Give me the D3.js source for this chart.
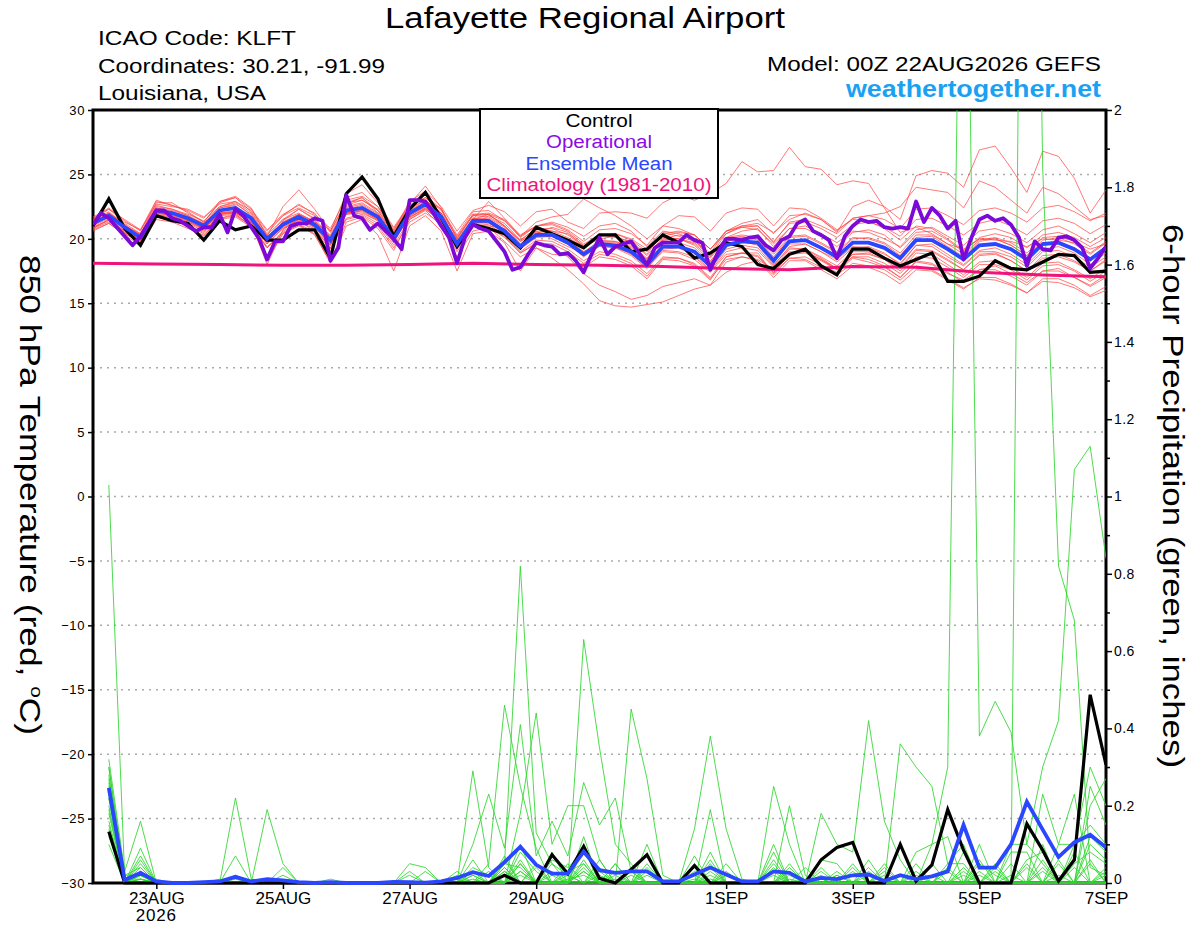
<!DOCTYPE html>
<html>
<head>
<meta charset="utf-8">
<script src="https://cdn.jsdelivr.net/npm/d3@7"></script>
<style>
  body { margin: 0; background: #fff; }
  svg { display: block; font-family: "Liberation Sans", Arial, Helvetica, sans-serif; }
</style>
</head>
<body>
<svg id="chart" width="1200" height="927"></svg>
<script>
// GEFS run 00Z 22AUG2026, 6-hourly steps (index i -> forecast hour i*6)
const controlTemp = [
  21.0, 23.1, 20.8, 19.5, 21.8, 21.4, 21.2, 19.9, 21.4, 20.7, 21.0, 19.9, 19.9, 20.7, 20.7, 18.5,
  23.5, 24.8, 23.1, 20.2, 22.3, 23.6, 21.6, 19.4, 21.1, 20.8, 20.4, 19.3, 20.9, 20.4, 19.9, 19.3,
  20.3, 20.3, 19.0, 19.2, 20.3, 19.7, 18.5, 18.9, 19.7, 19.4, 18.0, 17.7, 18.8, 19.2, 17.9, 17.2,
  19.2, 19.2, 18.5, 17.9, 18.4, 18.9, 16.7, 16.7, 17.1, 18.3, 17.7, 17.6, 18.2, 18.8, 18.7, 17.4,
  17.5
];
const meanTemp = [
  21.2, 21.8, 20.9, 20.1, 22.2, 22.0, 21.6, 21.0, 22.2, 22.4, 21.6, 20.0, 21.1, 21.7, 21.1, 19.9,
  22.2, 22.4, 21.7, 20.0, 22.0, 22.7, 21.7, 19.6, 21.4, 21.4, 20.6, 19.4, 20.3, 20.3, 19.7, 18.8,
  19.6, 19.5, 19.0, 18.0, 19.4, 19.4, 19.0, 17.9, 19.5, 19.8, 19.7, 18.3, 19.8, 19.9, 19.3, 18.6,
  19.7, 19.7, 19.3, 18.5, 19.9, 19.9, 19.2, 18.4, 19.5, 19.6, 19.2, 18.4, 19.6, 19.7, 19.2, 18.4,
  19.3
];
// operational GFS is 3-hourly (index i -> forecast hour i*3)
const operTemp = [
  21.1, 22.0, 21.6, 20.9, 20.2, 19.5, 20.2, 21.2,
  22.2, 22.2, 21.6, 21.4, 21.0, 20.6, 20.9, 20.9,
  21.9, 20.5, 22.3, 21.8, 20.9, 20.0, 18.4, 19.8,
  19.8, 21.0, 21.2, 21.2, 21.6, 21.4, 18.3, 19.3,
  23.4, 21.8, 21.6, 20.7, 21.2, 20.6, 20.0, 19.2,
  23.0, 23.0, 22.9, 22.0, 21.0, 20.1, 18.1, 20.1,
  21.1, 20.8, 20.6, 19.8, 19.0, 17.6, 17.8, 18.8,
  19.7, 19.5, 19.4, 18.8, 18.9, 18.3, 17.4, 18.8,
  20.1, 18.8, 19.4, 19.6, 19.8, 18.9, 18.0, 19.3,
  19.7, 19.7, 19.7, 20.3, 19.9, 19.7, 17.6, 19.0,
  20.0, 20.0, 19.9, 20.1, 20.2, 19.5, 19.1, 19.9,
  20.2, 21.2, 21.5, 20.6, 20.3, 19.9, 18.5, 20.2,
  21.0, 21.5, 21.3, 21.4, 20.9, 20.8, 20.9, 20.8,
  22.9, 21.3, 22.4, 21.8, 20.8, 21.4, 18.4, 20.1,
  21.5, 21.8, 21.4, 21.6, 21.1, 20.1, 17.9, 19.8,
  19.2, 19.1, 20.1, 20.2, 19.9, 19.3, 17.7, 18.5,
  19.4
];
// climatology, daily (index i -> forecast hour i*24)
const climTemp = [18.1, 18.05, 18.0, 17.95, 17.95, 18.0, 18.1, 18.0, 17.95, 17.85, 17.7, 17.6, 17.85, 17.8, 17.4, 17.2, 17.05];

const memberTemp = [
  [21.5,22.3,21.3,20.7,23.0,22.6,22.1,21.3,22.8,23.2,22.1,20.4,21.8,22.7,21.9,20.8,23.2,23.6,22.5,20.6,22.9,23.7,22.5,20.6,22.2,22.6,22.1,21.0,22.1,22.3,21.3,20.8,22.0,22.1,22.0,21.6,22.8,23.4,23.0,23.5,24.3,26.0,25.2,25.3,27.1,25.6,25.4,24.2,24.5,24.3,22.4,20.5,20.9,20.4,19.6,19.2,20.0,19.9,19.8,19.4,20.0,19.9,19.7,19.2,19.6],
  [20.8,21.5,20.6,19.8,21.9,21.6,21.0,20.5,21.9,22.0,21.2,19.6,21.4,22.3,21.5,19.6,22.6,23.0,22.2,20.3,21.6,22.4,21.3,19.0,21.0,21.8,21.2,19.9,20.8,20.6,20.4,19.5,20.2,20.4,19.9,19.0,20.2,20.5,20.3,19.2,20.4,21.0,21.2,20.5,21.5,22.0,21.5,20.5,22.5,23.0,22.5,21.5,24.9,25.3,25.1,24.0,26.9,27.2,25.5,23.6,26.8,26.4,24.7,22.0,23.8],
  [21.0,22.0,21.2,20.4,22.6,22.3,21.9,21.4,22.5,22.9,22.0,20.3,21.5,22.0,21.3,20.3,22.7,23.2,22.0,20.5,22.4,23.0,22.0,20.2,21.9,22.0,21.5,20.3,21.0,21.1,20.6,19.6,20.3,20.1,19.8,18.8,20.5,20.2,19.8,18.9,20.6,21.2,21.5,20.4,21.8,21.9,21.5,20.6,21.6,21.8,22.0,22.5,24.0,23.8,23.6,22.4,24.5,24.0,23.0,22.0,24.0,23.5,22.5,21.5,21.8],
  [20.9,21.4,20.4,19.8,21.8,21.5,21.2,20.6,21.8,21.9,21.0,19.3,20.6,21.3,20.8,19.3,21.6,21.9,21.2,19.5,21.5,22.2,21.0,18.6,20.6,20.9,19.8,18.6,19.3,18.5,17.6,16.5,15.2,14.8,14.7,14.9,15.1,15.6,16.1,16.4,17.4,18.0,18.3,17.2,18.5,18.6,18.0,17.4,18.5,18.2,17.8,17.0,18.2,18.0,17.3,16.8,17.6,17.9,17.3,16.6,17.5,17.7,17.0,16.4,17.2],
  [21.4,21.6,20.5,19.9,22.0,21.8,21.3,20.7,21.9,22.0,21.3,19.6,20.8,21.4,20.6,19.5,21.9,22.0,21.4,19.7,21.8,22.5,21.4,19.2,21.0,20.8,20.2,18.9,19.6,19.3,18.6,17.3,16.4,15.9,15.3,15.6,16.3,16.6,16.9,16.4,18.2,18.6,18.4,17.6,19.0,19.0,18.4,17.7,18.8,18.8,18.4,17.5,18.9,18.8,18.0,17.2,18.2,18.3,17.8,17.0,18.1,18.2,17.6,16.9,17.7],
  [21.6,22.4,21.4,20.6,22.9,22.6,22.2,21.6,22.9,23.2,22.3,20.7,21.9,22.6,22.0,20.5,23.0,23.3,22.5,20.8,22.6,23.2,22.2,20.1,21.8,21.7,21.0,19.8,20.5,20.4,19.9,19.0,19.6,19.4,18.8,17.8,19.0,18.9,18.4,17.4,18.8,18.9,18.6,17.4,18.5,18.4,17.8,17.2,18.1,17.9,17.6,16.8,17.9,17.6,16.9,16.2,16.9,16.8,16.4,15.8,16.7,16.6,16.2,15.5,16.0],
  [20.7,21.2,20.3,19.5,21.5,21.3,20.8,20.3,21.5,21.7,20.9,19.3,20.5,21.1,20.6,19.2,21.5,21.8,21.0,19.3,21.3,22.0,21.2,19.4,21.5,22.9,21.6,20.2,21.3,21.7,21.9,23.1,22.4,21.8,21.0,20.0,21.0,20.8,20.3,19.2,20.6,20.9,20.7,19.6,20.8,21.0,20.4,19.7,20.6,20.5,20.0,19.4,20.7,20.9,20.2,19.5,20.6,20.8,20.4,19.7,20.7,21.0,20.4,19.7,20.5],
  [21.1,21.7,20.8,19.9,22.0,21.9,21.5,20.9,22.1,22.5,21.5,19.8,21.0,21.8,21.2,19.8,22.3,22.6,21.8,19.8,21.9,22.8,21.8,19.4,21.3,21.3,20.4,19.2,20.1,20.2,19.6,18.6,19.5,19.3,18.9,17.8,19.2,19.3,18.7,17.6,19.2,19.5,19.3,17.9,19.4,19.6,19.0,18.2,19.3,19.4,18.9,18.0,19.5,19.6,18.8,18.0,19.1,19.3,18.8,18.0,19.2,19.4,18.9,18.0,18.9],
  [21.3,22.0,21.0,20.4,22.8,22.8,22.0,21.3,22.9,23.3,22.4,20.2,22.5,23.8,22.3,20.6,23.5,24.2,22.8,20.9,22.7,24.1,22.4,20.0,21.8,21.9,21.0,19.6,20.4,20.9,20.5,19.4,20.0,20.2,19.5,18.5,20.0,20.3,20.0,18.7,20.1,20.6,20.8,19.4,20.8,20.8,20.2,19.4,20.5,20.7,20.3,19.3,20.5,20.6,19.9,19.0,20.1,20.4,20.1,19.3,20.3,20.5,20.1,19.4,20.1],
  [20.6,21.2,20.4,19.7,21.7,21.4,21.0,20.2,21.6,21.8,21.0,18.3,20.4,21.0,20.4,18.1,21.0,21.5,20.3,17.5,21.0,21.8,20.6,17.5,20.4,20.6,19.7,17.5,19.3,18.8,18.7,17.8,18.6,18.4,17.9,16.9,18.4,18.3,17.9,16.8,18.6,18.9,18.9,17.3,18.9,19.0,18.4,17.6,18.8,18.9,18.4,17.7,19.1,19.0,18.3,17.6,18.8,18.9,18.3,17.5,18.5,18.6,18.2,17.5,18.4],
  [21.2,21.9,21.0,20.3,22.4,22.2,21.8,21.2,22.2,22.3,21.7,20.1,21.3,21.9,21.4,20.2,22.4,22.7,21.9,20.3,22.1,22.9,21.9,19.9,21.6,21.6,20.9,19.8,20.6,20.6,20.1,19.4,20.2,20.4,20.0,19.2,20.4,20.6,20.3,19.2,20.6,21.0,21.0,19.8,21.2,21.3,20.8,20.1,21.1,21.3,20.9,20.2,21.5,21.6,21.0,20.3,21.2,21.5,21.0,20.3,21.4,21.6,21.2,20.4,21.1],
  [21.0,21.6,20.7,20.0,22.0,21.8,21.4,20.8,22.0,22.2,21.4,19.8,20.9,21.5,20.9,19.6,22.0,22.3,21.5,19.9,21.8,22.5,21.5,19.3,21.2,21.1,20.3,19.0,19.9,19.8,19.2,18.3,19.0,18.8,18.3,17.3,18.6,18.5,18.0,16.9,18.4,18.6,18.3,17.0,18.3,18.3,17.6,16.9,17.9,17.8,17.3,16.5,17.6,17.5,16.8,16.1,17.0,17.0,16.5,15.8,16.9,16.9,16.4,15.6,16.3],
  [21.5,22.1,21.1,20.2,22.3,22.0,21.4,21.1,22.4,22.6,21.4,19.9,21.3,21.9,20.9,19.5,22.0,22.1,21.4,19.7,22.3,23.0,22.0,19.8,21.1,21.0,20.8,19.6,20.6,20.0,19.4,18.9,19.9,19.8,19.4,18.4,19.9,20.0,19.6,18.5,20.0,20.2,19.9,18.5,19.6,19.6,19.0,18.4,19.4,19.3,18.8,18.1,19.5,19.4,18.6,17.9,19.0,19.0,18.6,17.8,19.0,19.1,18.6,17.8,18.6],
  [20.9,21.5,20.6,19.9,21.9,21.7,21.3,20.8,21.9,22.1,21.3,19.7,20.8,21.5,21.0,19.7,21.9,22.2,21.5,19.9,21.7,22.4,21.5,19.5,21.3,21.3,20.5,19.3,20.2,20.3,19.8,19.0,19.8,19.8,19.3,18.4,19.9,20.0,19.7,18.7,20.4,20.9,21.0,19.7,21.3,21.5,21.0,20.4,21.6,21.8,21.5,20.8,22.3,22.4,21.8,21.1,22.2,22.4,22.0,21.3,22.4,22.6,22.1,21.4,22.0],
  [21.3,21.8,20.9,20.2,22.1,21.9,21.5,21.0,22.0,22.1,21.3,19.8,21.0,21.6,21.0,19.8,22.0,22.2,21.5,19.8,21.7,22.3,21.4,19.3,21.0,20.9,20.1,18.9,19.7,19.6,19.0,18.1,18.8,18.6,18.1,17.1,18.5,18.5,18.1,17.0,18.6,18.9,18.7,17.4,18.8,18.9,18.3,17.6,18.6,18.6,18.1,17.3,18.6,18.5,17.8,17.0,18.0,18.0,17.6,16.8,17.9,18.0,17.5,16.7,17.5],
  [21.7,22.3,21.5,20.7,22.7,22.5,22.3,21.7,22.7,22.9,22.2,20.6,21.8,22.4,21.8,20.6,22.8,23.0,22.3,20.7,22.5,23.2,22.3,20.3,22.1,22.2,21.4,20.2,21.0,21.2,20.7,19.8,20.7,20.8,20.4,19.5,21.0,21.8,21.7,20.6,22.0,22.4,22.3,21.0,22.4,22.3,21.6,20.7,21.5,21.4,20.8,19.9,21.0,20.8,20.0,19.1,20.0,20.0,19.5,18.7,19.7,19.8,19.3,18.5,19.2],
  [21.4,22.0,21.1,20.3,22.5,22.3,21.8,21.1,22.4,22.7,21.9,20.2,21.2,21.9,21.3,20.1,22.5,22.8,22.0,20.2,22.2,22.9,21.9,19.7,21.6,21.5,20.7,19.5,20.4,20.3,19.7,18.7,19.4,19.3,18.7,17.7,19.1,19.0,18.6,17.5,19.0,19.3,19.1,17.8,19.2,19.2,18.6,17.9,19.0,19.0,18.6,17.8,19.2,19.1,18.4,17.6,18.7,18.8,18.3,17.5,18.7,18.8,18.3,17.5,18.3],
  [20.8,21.3,20.5,19.8,21.7,21.5,21.0,20.4,21.6,21.9,21.0,19.4,20.4,21.1,20.3,18.2,21.3,21.7,20.8,19.1,21.5,22.3,21.3,19.2,21.5,21.9,21.4,20.1,21.0,21.3,20.9,20.2,21.0,21.2,20.6,19.4,20.6,20.4,19.9,18.6,20.1,20.3,20.1,18.8,20.2,20.3,19.7,19.0,20.1,20.0,19.6,18.7,20.1,20.2,19.4,18.6,19.8,20.0,19.5,18.7,19.9,20.1,19.6,18.8,19.7],
  [21.0,21.9,21.0,20.2,22.4,22.1,21.7,21.2,22.5,22.8,21.8,20.1,21.5,22.3,21.6,20.1,22.8,23.2,22.2,20.5,22.6,23.4,22.3,20.0,21.9,21.9,21.0,19.9,20.8,20.8,20.3,19.4,20.3,20.2,19.7,18.7,20.1,20.0,19.5,18.3,19.7,19.8,19.5,18.0,19.3,19.2,18.5,17.7,18.6,18.4,17.9,17.0,18.3,18.1,17.4,16.6,17.6,17.6,17.1,16.4,17.5,17.5,17.0,16.3,17.0],
  [21.2,21.7,20.8,20.0,22.1,21.9,21.4,20.8,22.0,22.1,21.2,18.0,20.7,21.5,20.9,19.7,22.1,22.3,21.6,19.9,21.9,22.6,21.6,19.5,21.3,21.2,20.5,19.3,20.2,20.2,19.7,18.8,19.7,19.7,19.2,18.2,19.6,19.7,19.3,18.2,19.8,20.1,20.0,18.6,20.1,20.2,19.6,18.9,20.0,20.1,19.7,18.9,20.3,20.3,19.6,18.8,19.9,20.1,19.7,18.9,20.1,20.2,19.8,18.9,19.8]
];

// 6-hour precipitation, inches (index i -> forecast hour (i+1)*6)
const controlPrecip = [
  0.133, 0, 0, 0, 0, 0, 0, 0,
  0, 0, 0, 0, 0, 0, 0, 0,
  0, 0, 0, 0, 0, 0, 0, 0,
  0, 0.02, 0, 0, 0.073, 0.024, 0.095, 0.012,
  0, 0.035, 0.073, 0, 0, 0.045, 0, 0,
  0, 0, 0, 0, 0, 0.06, 0.092, 0.105,
  0, 0, 0.10, 0.005, 0.047, 0.19, 0.085, 0,
  0, 0, 0.153, 0.085, 0.005, 0.06, 0.487, 0.306
];
const meanPrecip = [
  0.246, 0.008, 0.026, 0.004, 0, 0, 0.002, 0.004,
  0.016, 0.004, 0.01, 0.007, 0.002, 0, 0.002, 0,
  0, 0, 0.003, 0.002, 0.001, 0.004, 0.013, 0.028,
  0.018, 0.054, 0.094, 0.047, 0.024, 0.024, 0.081, 0.033,
  0.026, 0.03, 0.03, 0.004, 0.004, 0.022, 0.04, 0.022,
  0.004, 0.004, 0.03, 0.026, 0.004, 0.013, 0.01, 0.02,
  0.022, 0.005, 0.02, 0.01, 0.017, 0.03, 0.15, 0.04,
  0.04, 0.1, 0.21, 0.138, 0.067, 0.105, 0.125, 0.092
];
const memberPrecip = [
  [1.03,0.02,0.02,0,0,0,0,0, 0,0,0,0,0,0,0,0, 0,0,0,0,0,0,0,0.03, 0,0,0.06,0,0,0,0.05,0, 0,0,0,0,0,0,0.08,0, 0,0,0.06,0,0,0,0,0, 0.06,0,0,0,0,0,0.08,0, 0,0,0,0.1,0,0,0.2,0.27],
  [0.32,0.03,0.16,0,0,0,0,0, 0.22,0.01,0,0,0,0,0,0, 0,0,0,0,0,0,0,0, 0,0.05,0.82,0.13,0.05,0.02,0,0, 0,0,0.1,0,0,0.05,0,0, 0,0,0,0.05,0,0,0,0, 0,0,0,0.08,0.1,0.12,0,0, 0.05,0,0,0,0,0,0,0],
  [0.3,0,0.09,0,0,0,0,0, 0,0,0.19,0.05,0,0,0,0, 0,0,0,0,0,0,0,0, 0.05,0.46,0.25,0.09,0,0,0.63,0.35, 0.1,0.05,0,0,0,0,0.19,0, 0,0,0,0,0,0.06,0.05,0, 0,0,0,0,0,0,0,0, 0,0,0,0,0.1,0.23,0,0],
  [0.28,0,0.07,0,0,0,0,0, 0.07,0,0,0,0,0,0,0, 0,0,0,0,0,0,0,0.29, 0.04,0,0.18,0.44,0.1,0.2,0.2,0.06, 0,0.45,0.27,0.02,0,0,0,0, 0,0,0.25,0.1,0,0,0,0, 0,0.05,0,0,0,0,0,0, 0,0,0,0,0,0,0,0],
  [0.26,0,0.06,0,0,0,0,0, 0,0,0,0.04,0,0,0,0, 0,0,0,0,0,0,0,0.1, 0.23,0.09,0.41,0.07,0.16,0.07,0.26,0.15, 0.22,0.03,0,0,0,0.14,0.38,0.14, 0.01,0,0,0,0,0.18,0.1,0.08, 0.42,0.16,0.06,0,0,0,0,0, 0,0,0,0,0,0,0,0],
  [0.25,0,0.05,0,0,0,0,0, 0,0,0,0,0,0,0,0, 0,0,0,0.05,0.04,0,0,0, 0,0,0.1,0,0.08,0,0.09,0, 0.05,0,0,0,0,0.07,0,0, 0,0,0.1,0,0.04,0,0,0, 0,0,0.1,0,0.1,0.3,3.2,0.38, 0.47,0.39,0.1,0.05,0,0,0,0],
  [0.24,0,0.04,0,0,0,0,0, 0,0,0,0,0,0,0,0, 0,0,0,0,0,0,0,0.06, 0,0.07,0,0,0,0.05,0,0.06, 0,0,0.05,0,0,0,0.05,0, 0,0,0,0.2,0.02,0,0,0.05, 0,0,0,0.05,0,0,0,0.05, 0.02,0,4.5,1.85,0.82,0.68,0.04,0.02],
  [0.22,0,0.03,0,0,0,0,0, 0,0,0,0,0,0,0,0, 0,0,0,0,0,0,0.03,0, 0,0.04,0,0,0,0,0.12,0, 0.05,0,0,0,0,0,0,0.05, 0,0,0.05,0,0,0,0,0, 0.04,0,0,0,0,0,0,0.1, 0,0.1,0.1,0.3,0.42,1.07,1.13,0.84],
  [0.2,0,0.03,0,0,0,0,0, 0,0,0,0,0,0,0,0, 0,0,0,0,0.03,0,0,0.04, 0.02,0,0.08,0.03,0,0,0.1,0, 0,0.04,0,0,0,0.04,0,0, 0,0,0.08,0,0,0.04,0,0, 0,0,0.36,0.3,0.25,0.05,0.05,0, 0,0,0,0.23,0.1,0.1,0.3,0.2],
  [0.18,0,0.02,0,0,0,0,0.01, 0,0,0,0,0,0,0,0, 0,0,0,0.03,0,0,0,0, 0,0.03,0,0,0.06,0.04,0.08,0.03, 0,0,0,0,0,0,0.06,0, 0,0,0,0.04,0,0,0.03,0, 0,0.04,0,0,0,0.05,0.1,0, 0,0.08,0.08,0,0,0,0.25,0.15],
  [0.16,0,0.02,0,0,0,0,0, 0,0,0,0.02,0,0,0,0, 0,0,0,0,0,0,0.02,0, 0,0.05,0.04,0,0.05,0,0.06,0, 0.03,0,0.04,0,0,0.03,0.04,0, 0,0,0.04,0,0,0.03,0,0.04, 0,0,0,0,0.05,0,0,0.06, 0,0,0.06,0.08,0,0.1,0.15,0.1],
  [0.15,0,0.01,0,0,0,0,0, 0.02,0,0,0,0,0,0.01,0, 0,0,0,0,0,0,0,0.02, 0,0,0.03,0,0,0.03,0.05,0, 0,0.03,0,0,0,0,0,0.03, 0,0,0,0.03,0,0,0,0, 0.03,0,0,0,0,0.04,0,0, 0.04,0,0,0,0.05,0,0.12,0.08],
  [0.13,0,0.01,0,0,0,0,0, 0,0,0,0,0,0,0,0, 0,0,0,0.02,0,0,0,0, 0,0.04,0,0.05,0,0,0.03,0, 0,0,0.03,0,0,0,0.03,0, 0,0,0.03,0,0,0,0.02,0, 0,0,0,0.03,0,0,0.04,0, 0,0.05,0,0.06,0,0.08,0,0],
  [0.12,0.01,0.01,0,0,0,0,0, 0,0,0,0,0,0,0,0, 0,0,0,0,0,0,0,0.02, 0,0,0.05,0,0.03,0,0,0.04, 0,0,0,0,0,0.02,0,0, 0,0,0,0.02,0,0,0,0, 0,0.03,0,0,0,0,0.03,0, 0,0,0.05,0,0,0.05,0.08,0.05],
  [0.1,0,0,0.01,0,0,0,0, 0,0,0,0,0,0,0,0, 0,0,0,0,0,0,0.01,0, 0,0.03,0,0,0,0.02,0,0, 0.02,0,0,0,0,0,0.02,0, 0,0,0,0,0,0.02,0,0, 0,0,0.02,0,0,0,0,0.03, 0,0,0,0.04,0,0,0,0.04],
  [0.3,0.02,0.04,0,0,0,0,0, 0,0,0,0,0,0,0,0, 0,0,0,0,0,0,0,0, 0.03,0,0.05,0,0,0,0.04,0, 0,0.02,0,0,0,0,0,0, 0,0,0.02,0,0,0,0,0.03, 0,0,0,0,0,0.03,0,0, 0,0,0.04,0,0,0,0.1,0.06],
  [0.27,0,0.03,0,0,0,0,0, 0.01,0,0,0,0,0,0,0, 0,0,0,0,0,0,0,0, 0,0.06,0,0.04,0,0,0.03,0, 0,0,0.02,0,0,0,0,0.02, 0,0,0,0,0,0,0.02,0, 0,0,0,0.02,0,0,0,0, 0.03,0,0,0,0.06,0,0.06,0],
  [0.22,0,0.02,0,0,0,0,0, 0,0,0,0,0,0,0,0, 0,0,0,0,0,0,0,0.01, 0,0,0.03,0,0.02,0,0,0.02, 0,0,0,0,0,0.01,0,0, 0,0,0,0,0.01,0,0,0, 0,0,0,0,0.02,0,0,0, 0,0.02,0,0,0,0.04,0,0.03],
  [0.19,0,0.02,0,0,0,0,0, 0,0,0,0,0,0,0,0, 0,0,0,0,0,0,0,0, 0,0.02,0,0,0,0.01,0.02,0, 0,0,0,0,0,0,0.01,0, 0,0,0,0,0,0,0,0, 0.02,0,0,0,0,0,0.02,0, 0,0,0,0.03,0,0,0.05,0],
  [0.14,0,0.01,0,0,0,0,0, 0,0,0,0,0,0,0,0, 0,0,0,0,0,0,0,0, 0,0,0.02,0,0,0,0,0, 0.01,0,0,0,0,0,0,0, 0,0,0,0.01,0,0,0,0, 0,0.02,0,0,0,0,0,0.02, 0,0,0,0,0.02,0,0,0.02]
];

// axes
const tempTicks = [-30, -25, -20, -15, -10, -5, 0, 5, 10, 15, 20, 25, 30];
const precipTicks = [0, 0.2, 0.4, 0.6, 0.8, 1, 1.2, 1.4, 1.6, 1.8, 2];
const precipMinorTicks = [0.1, 0.3, 0.5, 0.7, 0.9, 1.1, 1.3, 1.5, 1.7, 1.9];
const dateTickDays = [23, 25, 27, 29, 32, 34, 36, 38]; // days counted from 1 Aug
const dateTickLabels = ['23AUG', '25AUG', '27AUG', '29AUG', '1SEP', '3SEP', '5SEP', '7SEP'];

const HOUR = 3600 * 1000;
const runStart = Date.UTC(2026, 7, 22, 0);
const atHour = h => new Date(runStart + h * HOUR);

const plot = { left: 93, right: 1106, top: 110, bottom: 883 };

const svg = d3.select('#chart');

// the reference font is set wider than Liberation Sans, so stretch the big texts
function stretch(sel, width) {
  return sel.attr('textLength', width).attr('lengthAdjust', 'spacingAndGlyphs');
}

const x = d3.scaleUtc()
    .domain([atHour(0), atHour(384)])
    .range([plot.left, plot.right]);
const yT = d3.scaleLinear().domain([-30, 30]).range([plot.bottom, plot.top]);
const yP = d3.scaleLinear().domain([0, 2]).range([plot.bottom, plot.top]);

// clip for the data lines
svg.append('defs').append('clipPath').attr('id', 'plotClip')
  .append('rect')
    .attr('x', plot.left)
    .attr('y', plot.top)
    .attr('width', plot.right - plot.left)
    .attr('height', plot.bottom - plot.top + 3);

// dotted grid at the temperature ticks
svg.append('g')
  .selectAll('line')
  .data(tempTicks.filter(t => t > -30 && t < 30))
  .join('line')
    .attr('x1', plot.left)
    .attr('x2', plot.right)
    .attr('y1', d => yT(d))
    .attr('y2', d => yT(d))
    .attr('stroke', '#aaaaaa')
    .attr('stroke-width', 1.5)
    .attr('stroke-dasharray', '2,5');

// left axis
const leftAxis = svg.append('g')
    .attr('transform', `translate(${plot.left},0)`)
    .call(d3.axisLeft(yT).tickValues(tempTicks).tickSize(5).tickPadding(3));

// right axis
const rightAxis = svg.append('g')
    .attr('transform', `translate(${plot.right},0)`)
    .call(d3.axisRight(yP).tickValues(precipTicks).tickSize(6).tickPadding(2)
      .tickFormat(d => String(+d.toFixed(1))));
const rightMinor = svg.append('g')
    .attr('transform', `translate(${plot.right},0)`)
    .call(d3.axisRight(yP).tickValues(precipMinorTicks).tickSize(4).tickFormat(''));

// bottom axis
const tickDates = dateTickDays.map(d => new Date(Date.UTC(2026, 7, d)));
const bottomAxis = svg.append('g')
    .attr('transform', `translate(0,${plot.bottom})`)
    .call(d3.axisBottom(x).tickValues(tickDates).tickSize(6).tickPadding(3)
      .tickFormat((d, i) => dateTickLabels[i]));

[leftAxis, rightAxis, rightMinor, bottomAxis].forEach(g => {
  g.select('.domain').remove();
  g.selectAll('.tick line').attr('stroke', '#000').attr('stroke-width', 1.5);
  g.selectAll('.tick text').attr('fill', '#000').style('font-family', 'inherit');
});
leftAxis.selectAll('.tick text').style('font-size', '13px').style('letter-spacing', '0.6px');
rightAxis.selectAll('.tick text').style('font-size', '14px').style('letter-spacing', '0.4px');
// keep the "0" of the right axis clear of the 7SEP label below it
rightAxis.selectAll('.tick text').filter(d => d === 0).attr('dy', '0.05em');
bottomAxis.selectAll('.tick text').style('font-size', '17px');

svg.append('text')
    .attr('x', x(tickDates[0]))
    .attr('y', 921)
    .attr('text-anchor', 'middle')
    .style('font-size', '17px')
    .style('letter-spacing', '0.8px')
    .text('2026');

// frame
svg.append('rect')
    .attr('x', plot.left)
    .attr('y', plot.top)
    .attr('width', plot.right - plot.left)
    .attr('height', plot.bottom - plot.top)
    .attr('fill', 'none')
    .attr('stroke', '#000')
    .attr('stroke-width', 3);

// data lines
const tempLine = step => d3.line()
    .x((d, i) => x(atHour(i * step)))
    .y(d => yT(d));
const precipLine = d3.line()
    .x((d, i) => x(atHour((i + 1) * 6)))
    .y(d => yP(d));

const data = svg.append('g').attr('clip-path', 'url(#plotClip)');

data.append('g')
  .selectAll('path')
  .data(memberTemp)
  .join('path')
    .attr('d', tempLine(6))
    .attr('fill', 'none')
    .attr('stroke', '#ff4040')
    .attr('stroke-opacity', 0.7)
    .attr('stroke-width', 1);

data.append('g')
  .selectAll('path')
  .data(memberPrecip)
  .join('path')
    .attr('d', precipLine)
    .attr('fill', 'none')
    .attr('stroke', '#2ed62e')
    .attr('stroke-opacity', 0.85)
    .attr('stroke-width', 1);

data.append('path')
    .attr('d', tempLine(24)(climTemp))
    .attr('fill', 'none')
    .attr('stroke', '#f0137c')
    .attr('stroke-width', 3);

data.append('path')
    .attr('d', precipLine(controlPrecip))
    .attr('fill', 'none')
    .attr('stroke', '#000')
    .attr('stroke-width', 3.2);

data.append('path')
    .attr('d', precipLine(meanPrecip))
    .attr('fill', 'none')
    .attr('stroke', '#2a46ff')
    .attr('stroke-width', 3.8);

data.append('path')
    .attr('d', tempLine(6)(controlTemp))
    .attr('fill', 'none')
    .attr('stroke', '#000')
    .attr('stroke-width', 3.2);

data.append('path')
    .attr('d', tempLine(6)(meanTemp))
    .attr('fill', 'none')
    .attr('stroke', '#2a46ff')
    .attr('stroke-width', 3.8);

data.append('path')
    .attr('d', tempLine(3)(operTemp))
    .attr('fill', 'none')
    .attr('stroke', '#7b0ad8')
    .attr('stroke-width', 3.8)
    .attr('stroke-linejoin', 'round');

// legend
const legend = svg.append('g');
legend.append('rect')
    .attr('x', 480)
    .attr('y', 109)
    .attr('width', 238)
    .attr('height', 89)
    .attr('fill', '#fff')
    .attr('stroke', '#000')
    .attr('stroke-width', 2);
const legendItems = [
  { label: 'Control', color: '#000', width: 67 },
  { label: 'Operational', color: '#8a0ae6', width: 106 },
  { label: 'Ensemble Mean', color: '#2a46ff', width: 147 },
  { label: 'Climatology (1981-2010)', color: '#f0137c', width: 225 }
];
legend.selectAll('text.item')
  .data(legendItems)
  .join('text')
    .attr('class', 'item')
    .attr('x', 599)
    .attr('y', (d, i) => 127 + i * 21.3)
    .attr('text-anchor', 'middle')
    .attr('fill', d => d.color)
    .attr('textLength', d => d.width)
    .attr('lengthAdjust', 'spacingAndGlyphs')
    .style('font-size', '18px')
    .text(d => d.label);

// titles
stretch(svg.append('text')
    .attr('x', 585)
    .attr('y', 28)
    .attr('text-anchor', 'middle')
    .style('font-size', '29px')
    .text('Lafayette Regional Airport'), 400);

const infoLines = [
  { text: 'ICAO Code: KLFT', width: 198 },
  { text: 'Coordinates: 30.21, -91.99', width: 287 },
  { text: 'Louisiana, USA', width: 168 }
];
svg.append('g')
  .selectAll('text')
  .data(infoLines)
  .join('text')
    .attr('x', 98)
    .attr('y', (d, i) => 45 + i * 27.5)
    .attr('textLength', d => d.width)
    .attr('lengthAdjust', 'spacingAndGlyphs')
    .style('font-size', '20px')
    .text(d => d.text);

stretch(svg.append('text')
    .attr('x', 1101)
    .attr('y', 71)
    .attr('text-anchor', 'end')
    .style('font-size', '20px')
    .text('Model: 00Z 22AUG2026 GEFS'), 334);

stretch(svg.append('text')
    .attr('x', 1101)
    .attr('y', 97)
    .attr('text-anchor', 'end')
    .attr('fill', '#1ba1f2')
    .style('font-size', '23px')
    .style('font-weight', 'bold')
    .text('weathertogether.net'), 255);

// axis titles, both rotated to read top to bottom
const leftTitle = svg.append('text')
    .attr('transform', 'translate(20,495) rotate(90)')
    .attr('text-anchor', 'middle')
    .style('font-size', '29px');
leftTitle.append('tspan').text('850 hPa Temperature (red, ');
leftTitle.append('tspan').attr('dy', -11).style('font-size', '17px').text('o');
leftTitle.append('tspan').attr('dy', 11).text('C)');
stretch(leftTitle, 480);

stretch(svg.append('text')
    .attr('transform', 'translate(1163,496) rotate(90)')
    .attr('text-anchor', 'middle')
    .style('font-size', '29px')
    .text('6-hour Precipitation (green, inches)'), 544);
</script>
</body>
</html>
